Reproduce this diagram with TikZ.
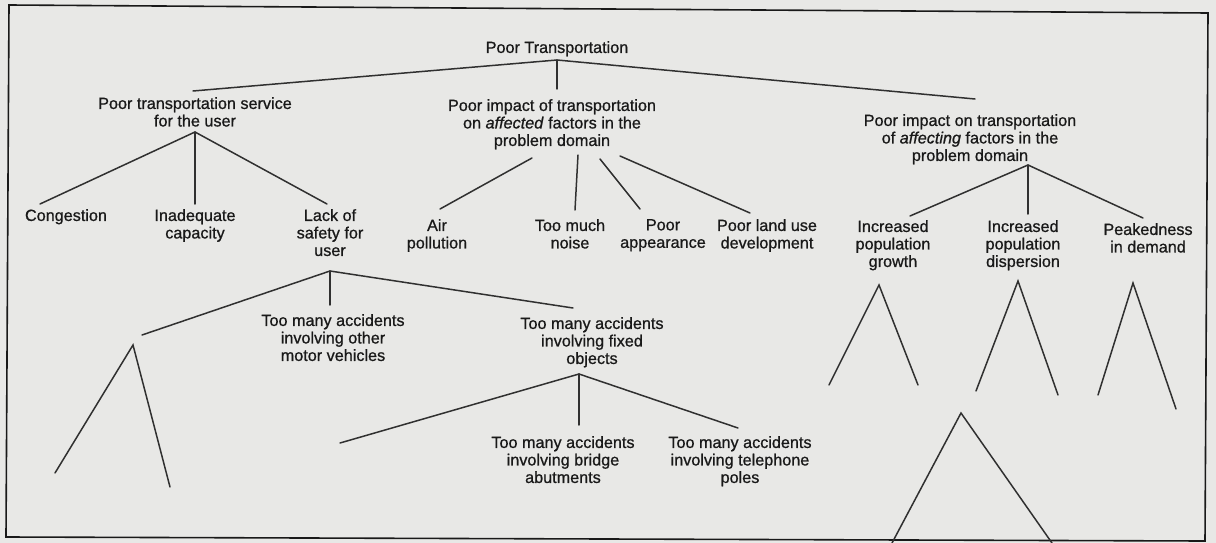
\documentclass[tikz,border=0pt]{standalone}
\usepackage{fontspec}
\setmainfont[FakeBold=0.8]{Liberation Sans}
\definecolor{paper}{RGB}{232,232,230}
\definecolor{ink}{RGB}{25,25,25}
\begin{document}
\begin{tikzpicture}[x=1pt,y=-1pt,
  lbl/.style={anchor=north,inner sep=0pt,align=center,text=ink,
    font=\fontsize{16.2}{17.5}\selectfont},
  edge/.style={draw=ink!90,line width=1.5pt,line cap=round},
  frame/.style={draw=ink,line width=1.6pt}]
\useasboundingbox (0,0) rectangle (1216,543);
\fill[paper] (0,0) rectangle (1216,543);
\draw[frame] (9,5) -- (1208,13) -- (1205,541) -- (6,537) -- cycle;

% nodes
\node[lbl] (root) at (557,41) {Poor Transportation};
\node[lbl] (s1) at (195,97) {Poor transportation service\\for the user};
\node[lbl] (s2) at (552,99) {Poor impact of transportation\\on \textit{affected} factors in the\\problem domain};
\node[lbl] (s3) at (970,114) {Poor impact on transportation\\of \textit{affecting} factors in the\\problem domain};
\node[lbl] (cong) at (66,209) {Congestion};
\node[lbl] (inad) at (195,209) {Inadequate\\capacity};
\node[lbl] (lack) at (330,209) {Lack of\\safety for\\user};
\node[lbl] (air) at (437,219) {Air\\pollution};
\node[lbl] (noise) at (570,219) {Too much\\noise};
\node[lbl] (appear) at (663,219) {Poor\\appearance};
\node[lbl] (land) at (767,219) {Poor land use\\development};
\node[lbl] (growth) at (893,220) {Increased\\population\\growth};
\node[lbl] (disp) at (1023,220) {Increased\\population\\dispersion};
\node[lbl] (peak) at (1148,223) {Peakedness\\in demand};
\node[lbl] (motor) at (333,314) {Too many accidents\\involving other\\motor vehicles};
\node[lbl] (fixed) at (592,317) {Too many accidents\\involving fixed\\objects};
\node[lbl] (bridge) at (563,436) {Too many accidents\\involving bridge\\abutments};
\node[lbl] (poles) at (740,436) {Too many accidents\\involving telephone\\poles};

% junctions and line ends
\coordinate (j0) at (557,60);
\coordinate (s1t) at (193,91);
\coordinate (s2t) at (557,89);
\coordinate (s3t) at (975,99);
\coordinate (j1) at (195,132);
\coordinate (congt) at (40,204);
\coordinate (inadt) at (195,204);
\coordinate (lackt) at (327,204);
\coordinate (s2a) at (532,158);
\coordinate (s2b) at (578,155);
\coordinate (s2c) at (600,159);
\coordinate (s2d) at (620,156);
\coordinate (airt) at (440,209);
\coordinate (noiset) at (575,210);
\coordinate (appeart) at (640,209);
\coordinate (landt) at (750,213);
\coordinate (j3) at (1028,165);
\coordinate (growtht) at (910,216);
\coordinate (dispt) at (1028,214);
\coordinate (peakt) at (1143,218);
\coordinate (j4) at (330,271);
\coordinate (leftt) at (142,335);
\coordinate (motort) at (330,305);
\coordinate (fixedt) at (573,308);
\coordinate (j5) at (579,374);
\coordinate (f1) at (340,443);
\coordinate (bridget) at (579,425);
\coordinate (polest) at (738,428);

\draw[edge] (s1t) -- (j0) -- (s3t);
\draw[edge] (j0) -- (s2t);
\draw[edge] (congt) -- (j1) -- (lackt);
\draw[edge] (j1) -- (inadt);
\draw[edge] (s2a) -- (airt);
\draw[edge] (s2b) -- (noiset);
\draw[edge] (s2c) -- (appeart);
\draw[edge] (s2d) -- (landt);
\draw[edge] (growtht) -- (j3) -- (peakt);
\draw[edge] (j3) -- (dispt);
\draw[edge] (leftt) -- (j4) -- (fixedt);
\draw[edge] (j4) -- (motort);
\draw[edge] (f1) -- (j5) -- (polest);
\draw[edge] (j5) -- (bridget);

% open subtrees
\coordinate (t0) at (133,345);
\draw[edge] (55,473) -- (t0) -- (170,487);
\coordinate (t1) at (879,285);
\draw[edge] (829,385) -- (t1) -- (918,385);
\coordinate (t2) at (1018,281);
\draw[edge] (976,391) -- (t2) -- (1058,395);
\coordinate (t3) at (1133,283);
\draw[edge] (1098,395) -- (t3) -- (1176,409);
\coordinate (t4) at (961,413);
\draw[edge] (892,543) -- (t4) -- (1052,543);
\end{tikzpicture}
\end{document}
